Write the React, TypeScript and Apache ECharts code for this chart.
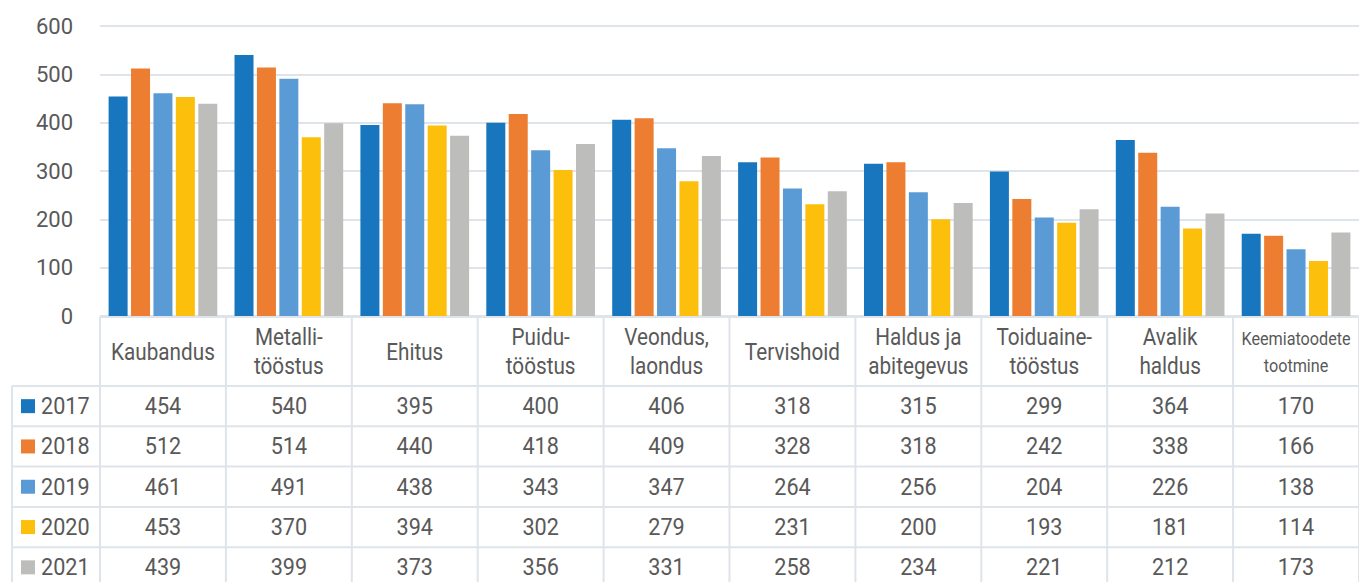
import React, { useEffect, useRef } from "react";
import * as echarts from "echarts";

const categories = [
  "Kaubandus",
  "Metalli-\ntööstus",
  "Ehitus",
  "Puidu-\ntööstus",
  "Veondus,\nlaondus",
  "Tervishoid",
  "Haldus ja\nabitegevus",
  "Toiduaine-\ntööstus",
  "Avalik\nhaldus",
  "Keemiatoodete\ntootmine",
];
const years = ["2017", "2018", "2019", "2020", "2021"];
const v2017 = [454, 540, 395, 400, 406, 318, 315, 299, 364, 170];
const v2018 = [512, 514, 440, 418, 409, 328, 318, 242, 338, 166];
const v2019 = [461, 491, 438, 343, 347, 264, 256, 204, 226, 138];
const v2020 = [453, 370, 394, 302, 279, 231, 200, 193, 181, 114];
const v2021 = [439, 399, 373, 356, 331, 258, 234, 221, 212, 173];
const seriesValues = [v2017, v2018, v2019, v2020, v2021];
const colors = ["#1776bd", "#ed7d31", "#5b9bd5", "#fcbf0b", "#bdbdbb"];
const yTicks = [0, 100, 200, 300, 400, 500, 600];

const W = 1359;
const H = 582;
const GL = 100;
const GT = 26;
const GB = 316;
const colW = (W - GL) / categories.length;
const headerBottom = 386;
const rowH = 40.3;
const leftCol = 12;
const lineColor = "#dfe4ea";
const textColor = "#595959";
const FONT = "Roboto, 'Noto Sans', sans-serif";

function buildGraphic() {
  const els: any[] = [];
  const line = (x1: number, y1: number, x2: number, y2: number) =>
    els.push({
      type: "line",
      silent: true,
      shape: { x1, y1, x2, y2 },
      style: { stroke: lineColor, lineWidth: 2 },
    });
  line(GL, GB + 1, W, GB + 1);
  for (let r = 0; r < years.length; r++) {
    line(leftCol, headerBottom + r * rowH, W, headerBottom + r * rowH);
  }
  line(leftCol, headerBottom, leftCol, H);
  for (let c = 0; c <= categories.length; c++) {
    line(GL + c * colW, GB + 1, GL + c * colW, H);
  }
  categories.forEach((cat, c) => {
    const small = cat.startsWith("Keemia");
    els.push({
      type: "text",
      silent: true,
      x: GL + (c + 0.5) * colW,
      y: (GB + headerBottom) / 2 + 1,
      scaleX: 0.9,
      style: {
        text: cat,
        fill: textColor,
        font: `${small ? 18 : 23}px ${FONT}`,
        align: "center",
        verticalAlign: "middle",
        textAlign: "center",
        textVerticalAlign: "middle",
        lineHeight: small ? 27 : 29,
      },
    });
  });
  years.forEach((yr, r) => {
    const cy = headerBottom + (r + 0.5) * rowH;
    els.push({
      type: "rect",
      silent: true,
      shape: { x: 21, y: cy - 7, width: 14, height: 14 },
      style: { fill: colors[r] },
    });
    els.push({
      type: "text",
      silent: true,
      x: 41,
      y: cy,
      scaleX: 0.9,
      style: {
        text: yr,
        fill: textColor,
        font: `24px ${FONT}`,
        align: "left",
        verticalAlign: "middle",
        textAlign: "left",
        textVerticalAlign: "middle",
      },
    });
    seriesValues[r].forEach((v, c) => {
      els.push({
        type: "text",
        silent: true,
        x: GL + (c + 0.5) * colW,
        y: cy,
        scaleX: 0.9,
        style: {
          text: String(v),
          fill: textColor,
          font: `24px ${FONT}`,
          align: "center",
          verticalAlign: "middle",
          textAlign: "center",
          textVerticalAlign: "middle",
        },
      });
    });
  });
  return els;
}

export default function App() {
  const ref = useRef<HTMLDivElement>(null);
  useEffect(() => {
    if (!ref.current) return;
    const chart = echarts.init(ref.current, null, { renderer: "svg" });
    chart.setOption({
      animation: false,
      backgroundColor: "#ffffff",
      textStyle: { fontFamily: FONT },
      grid: { left: GL, right: 0, top: GT, height: GB - GT, containLabel: false },
      xAxis: {
        type: "category",
        data: categories,
        axisLine: { show: false },
        axisTick: { show: false },
        axisLabel: { show: false },
        splitLine: { show: false },
      },
      yAxis: {
        type: "value",
        min: yTicks[0],
        max: yTicks[yTicks.length - 1],
        interval: 100,
        axisLine: { show: false },
        axisTick: { show: false },
        axisLabel: { color: textColor, fontSize: 22, margin: 27, fontFamily: FONT },
        splitLine: { lineStyle: { color: lineColor, width: 2 } },
      },
      series: years.map((yr, i) => ({
        name: yr,
        type: "bar",
        data: seriesValues[i],
        itemStyle: { color: colors[i] },
        barWidth: 19,
        barGap: "18%",
        barCategoryGap: "13%",
      })),
      graphic: buildGraphic(),
    });
    return () => chart.dispose();
  }, []);
  return (
    <div
      ref={ref}
      style={{ position: "fixed", left: 0, top: 0, width: W, height: H }}
    />
  );
}
